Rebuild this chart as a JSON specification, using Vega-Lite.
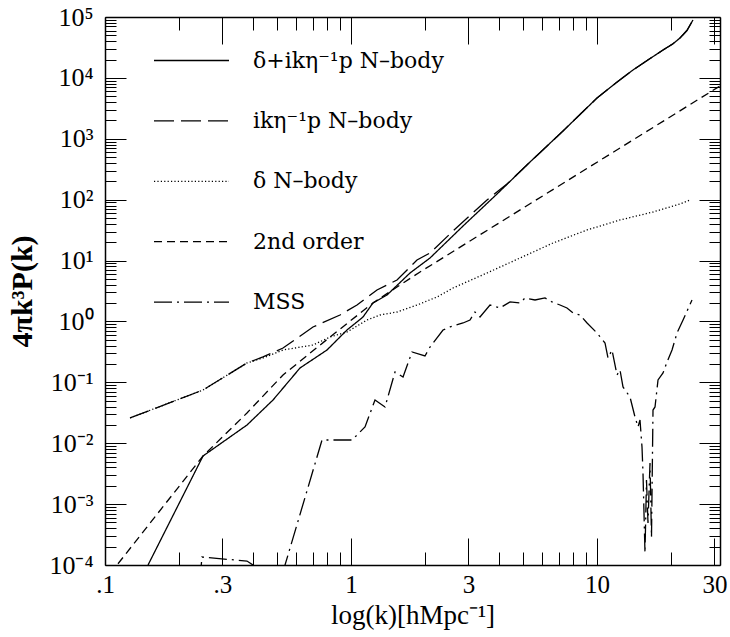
{
  "$schema": "https://vega.github.io/schema/vega-lite/v6.json",
  "width": 615,
  "height": 548,
  "autosize": {"type": "none"},
  "padding": {"left": 105, "top": 17, "right": 10, "bottom": 72},
  "background": "white",
  "config": {
    "view": {"stroke": null},
    "axis": {"domainColor": "black", "domainWidth": 1.5, "tickColor": "black", "tickWidth": 1, "labelColor": "black", "titleColor": "black", "grid": false, "labelFont": "Liberation Serif", "titleFont": "Liberation Serif", "labelOverlap": false, "labelFlush": false}
  },
  "data": {"values": [
    {"s": "δ+ikη⁻¹p N–body", "k": 0.1388, "p": 0.0000567},
    {"s": "δ+ikη⁻¹p N–body", "k": 0.1496, "p": 0.0001},
    {"s": "δ+ikη⁻¹p N–body", "k": 0.2503, "p": 0.00617},
    {"s": "δ+ikη⁻¹p N–body", "k": 0.3777, "p": 0.0199},
    {"s": "δ+ikη⁻¹p N–body", "k": 0.482, "p": 0.0513},
    {"s": "δ+ikη⁻¹p N–body", "k": 0.6204, "p": 0.172},
    {"s": "δ+ikη⁻¹p N–body", "k": 0.799, "p": 0.34},
    {"s": "δ+ikη⁻¹p N–body", "k": 0.9632, "p": 0.724},
    {"s": "δ+ikη⁻¹p N–body", "k": 1.1188, "p": 1.183},
    {"s": "δ+ikη⁻¹p N–body", "k": 1.2282, "p": 2.01},
    {"s": "δ+ikη⁻¹p N–body", "k": 1.4007, "p": 2.72},
    {"s": "δ+ikη⁻¹p N–body", "k": 1.7372, "p": 6.25},
    {"s": "δ+ikη⁻¹p N–body", "k": 2.095, "p": 11.02},
    {"s": "δ+ikη⁻¹p N–body", "k": 2.8534, "p": 36.9},
    {"s": "δ+ikη⁻¹p N–body", "k": 3.922, "p": 123.9},
    {"s": "δ+ikη⁻¹p N–body", "k": 5.3423, "p": 415.6},
    {"s": "δ+ikη⁻¹p N–body", "k": 7.2741, "p": 1342},
    {"s": "δ+ikη⁻¹p N–body", "k": 10, "p": 4673},
    {"s": "δ+ikη⁻¹p N–body", "k": 12.0, "p": 8400},
    {"s": "δ+ikη⁻¹p N–body", "k": 14.005, "p": 13480},
    {"s": "δ+ikη⁻¹p N–body", "k": 16.2, "p": 20000},
    {"s": "δ+ikη⁻¹p N–body", "k": 18.55, "p": 28700},
    {"s": "δ+ikη⁻¹p N–body", "k": 20.3, "p": 36000},
    {"s": "δ+ikη⁻¹p N–body", "k": 21.748, "p": 45200},
    {"s": "δ+ikη⁻¹p N–body", "k": 23.2, "p": 60000},
    {"s": "δ+ikη⁻¹p N–body", "k": 24.557, "p": 89300},

    {"s": "ikη⁻¹p N–body", "k": 0.1264, "p": 0.026},
    {"s": "ikη⁻¹p N–body", "k": 0.2503, "p": 0.0748},
    {"s": "ikη⁻¹p N–body", "k": 0.3777, "p": 0.208},
    {"s": "ikη⁻¹p N–body", "k": 0.4387, "p": 0.261},
    {"s": "ikη⁻¹p N–body", "k": 0.5292, "p": 0.366},
    {"s": "ikη⁻¹p N–body", "k": 0.7006, "p": 0.811},
    {"s": "ikη⁻¹p N–body", "k": 0.9021, "p": 1.276},
    {"s": "ikη⁻¹p N–body", "k": 1.0578, "p": 1.862},
    {"s": "ikη⁻¹p N–body", "k": 1.2754, "p": 3.28},
    {"s": "ikη⁻¹p N–body", "k": 1.5382, "p": 4.79},
    {"s": "ikη⁻¹p N–body", "k": 1.8546, "p": 10.21},
    {"s": "ikη⁻¹p N–body", "k": 2.095, "p": 13.31},
    {"s": "ikη⁻¹p N–body", "k": 2.5984, "p": 30.6},
    {"s": "ikη⁻¹p N–body", "k": 3.5718, "p": 98.8},
    {"s": "ikη⁻¹p N–body", "k": 4.306, "p": 180.9},
    {"s": "ikη⁻¹p N–body", "k": 5.3423, "p": 415.6},
    {"s": "ikη⁻¹p N–body", "k": 7.2741, "p": 1342},
    {"s": "ikη⁻¹p N–body", "k": 10, "p": 4673},
    {"s": "ikη⁻¹p N–body", "k": 12.0, "p": 8400},
    {"s": "ikη⁻¹p N–body", "k": 14.005, "p": 13480},
    {"s": "ikη⁻¹p N–body", "k": 16.2, "p": 20000},
    {"s": "ikη⁻¹p N–body", "k": 18.55, "p": 28700},
    {"s": "ikη⁻¹p N–body", "k": 20.3, "p": 36000},
    {"s": "ikη⁻¹p N–body", "k": 21.748, "p": 45200},
    {"s": "ikη⁻¹p N–body", "k": 23.2, "p": 60000},
    {"s": "ikη⁻¹p N–body", "k": 24.557, "p": 89300},

    {"s": "δ N–body", "k": 0.1264, "p": 0.026},
    {"s": "δ N–body", "k": 0.2503, "p": 0.0748},
    {"s": "δ N–body", "k": 0.3777, "p": 0.208},
    {"s": "δ N–body", "k": 0.4387, "p": 0.251},
    {"s": "δ N–body", "k": 0.5292, "p": 0.34},
    {"s": "δ N–body", "k": 0.7006, "p": 0.41},
    {"s": "δ N–body", "k": 0.8215, "p": 0.555},
    {"s": "δ N–body", "k": 0.9632, "p": 0.671},
    {"s": "δ N–body", "k": 1.1615, "p": 1.056},
    {"s": "δ N–body", "k": 1.3119, "p": 1.276},
    {"s": "δ N–body", "k": 1.5382, "p": 1.429},
    {"s": "δ N–body", "k": 1.8546, "p": 1.862},
    {"s": "δ N–body", "k": 2.2375, "p": 2.52},
    {"s": "δ N–body", "k": 2.5984, "p": 3.54},
    {"s": "δ N–body", "k": 3.5718, "p": 6.25},
    {"s": "δ N–body", "k": 4.8651, "p": 11.02},
    {"s": "δ N–body", "k": 6.625, "p": 19.43},
    {"s": "δ N–body", "k": 9.1107, "p": 31.8},
    {"s": "δ N–body", "k": 12.402, "p": 46.4},
    {"s": "δ N–body", "k": 16.889, "p": 62.7},
    {"s": "δ N–body", "k": 21.748, "p": 85},
    {"s": "δ N–body", "k": 23.878, "p": 98.8},

    {"s": "2nd order", "k": 0.1048, "p": 0.0000711},
    {"s": "2nd order", "k": 0.1119, "p": 0.0001},
    {"s": "2nd order", "k": 0.2503, "p": 0.00617},
    {"s": "2nd order", "k": 0.3777, "p": 0.0314},
    {"s": "2nd order", "k": 0.5292, "p": 0.132},
    {"s": "2nd order", "k": 0.8215, "p": 0.555},
    {"s": "2nd order", "k": 1.2282, "p": 2.01},
    {"s": "2nd order", "k": 1.5382, "p": 3.68},
    {"s": "2nd order", "k": 1.908, "p": 6.49},
    {"s": "2nd order", "k": 31.62, "p": 7360},

    {"s": "MSS", "k": 0.2433, "p": 0.0000567},
    {"s": "MSS", "k": 0.2478, "p": 0.000135},
    {"s": "MSS", "k": 0.3777, "p": 0.000116},
    {"s": "MSS", "k": 0.3995, "p": 0.0001},
    {"s": "MSS", "k": 0.4266, "p": 0.0000567},
    {"s": "MSS", "k": 0.5173, "p": 0.0000567},
    {"s": "MSS", "k": 0.7625, "p": 0.0113},
    {"s": "MSS", "k": 1.0094, "p": 0.0113},
    {"s": "MSS", "k": 1.14, "p": 0.0185},
    {"s": "MSS", "k": 1.2519, "p": 0.0513},
    {"s": "MSS", "k": 1.3748, "p": 0.0394},
    {"s": "MSS", "k": 1.5097, "p": 0.1479},
    {"s": "MSS", "k": 1.6273, "p": 0.1224},
    {"s": "MSS", "k": 1.7701, "p": 0.315},
    {"s": "MSS", "k": 1.9987, "p": 0.271},
    {"s": "MSS", "k": 2.095, "p": 0.38},
    {"s": "MSS", "k": 2.3659, "p": 0.724},
    {"s": "MSS", "k": 2.5263, "p": 0.811},
    {"s": "MSS", "k": 2.8534, "p": 0.943},
    {"s": "MSS", "k": 3.0455, "p": 1.056},
    {"s": "MSS", "k": 3.1917, "p": 1.429},
    {"s": "MSS", "k": 3.3446, "p": 1.183},
    {"s": "MSS", "k": 3.6728, "p": 1.862},
    {"s": "MSS", "k": 4.0337, "p": 1.662},
    {"s": "MSS", "k": 4.4289, "p": 2.09},
    {"s": "MSS", "k": 4.8651, "p": 2.01},
    {"s": "MSS", "k": 5.0981, "p": 2.43},
    {"s": "MSS", "k": 5.5976, "p": 2.25},
    {"s": "MSS", "k": 6.1465, "p": 2.43},
    {"s": "MSS", "k": 6.563, "p": 2.09},
    {"s": "MSS", "k": 7.0725, "p": 1.862},
    {"s": "MSS", "k": 7.5509, "p": 1.662},
    {"s": "MSS", "k": 7.9874, "p": 1.376},
    {"s": "MSS", "k": 8.5307, "p": 1.276},
    {"s": "MSS", "k": 9.1107, "p": 0.943},
    {"s": "MSS", "k": 10, "p": 0.646},
    {"s": "MSS", "k": 10.778, "p": 0.443},
    {"s": "MSS", "k": 11.085, "p": 0.251},
    {"s": "MSS", "k": 11.508, "p": 0.34},
    {"s": "MSS", "k": 12.059, "p": 0.132},
    {"s": "MSS", "k": 12.402, "p": 0.1595},
    {"s": "MSS", "k": 12.755, "p": 0.0839},
    {"s": "MSS", "k": 13.617, "p": 0.0574},
    {"s": "MSS", "k": 14.271, "p": 0.027},
    {"s": "MSS", "k": 14.677, "p": 0.0185},
    {"s": "MSS", "k": 14.954, "p": 0.0241},
    {"s": "MSS", "k": 15.237, "p": 0.00868},
    {"s": "MSS", "k": 15.38, "p": 0.00324},
    {"s": "MSS", "k": 15.67, "p": 0.000158},
    {"s": "MSS", "k": 15.89, "p": 0.00249},
    {"s": "MSS", "k": 16.116, "p": 0.00049},
    {"s": "MSS", "k": 16.422, "p": 0.00474},
    {"s": "MSS", "k": 16.653, "p": 0.000288},
    {"s": "MSS", "k": 16.889, "p": 0.0351},
    {"s": "MSS", "k": 17.211, "p": 0.0394},
    {"s": "MSS", "k": 17.701, "p": 0.1093},
    {"s": "MSS", "k": 18.55, "p": 0.1424},
    {"s": "MSS", "k": 19.258, "p": 0.216},
    {"s": "MSS", "k": 20.181, "p": 0.34},
    {"s": "MSS", "k": 21.146, "p": 0.646},
    {"s": "MSS", "k": 22.375, "p": 1.056},
    {"s": "MSS", "k": 24.331, "p": 2.25}
  ]},
  "layer": [
    {
      "mark": {"type": "line", "clip": true, "color": "black", "strokeWidth": 1.3},
      "encoding": {
        "x": {
          "field": "k", "type": "quantitative",
          "scale": {"type": "log", "domain": [0.1, 31.62], "nice": false},
          "axis": {
            "orient": "bottom",
            "values": [0.1, 0.3, 1, 3, 10, 30],
            "tickSize": -27,
            "labelExpr": "datum.value == 0.1 ? '.1' : datum.value == 0.3 ? '.3' : datum.value == 1 ? '1' : datum.value == 3 ? '3' : datum.value == 10 ? '10' : '30'",
            "labelFontSize": 25,
            "labelBaseline": "middle",
            "labelPadding": 46,
            "title": "log(k)[hMpc⁻¹]",
            "titleFontSize": 27,
            "titleFontWeight": "normal",
            "titleX": 307.5,
            "titleY": 50,
            "titleBaseline": "middle",
            "titleAlign": "center"
          }
        },
        "y": {
          "field": "p", "type": "quantitative",
          "scale": {"type": "log", "domain": [0.0001, 100000], "nice": false},
          "axis": {
            "orient": "left",
            "values": [0.0001, 0.001, 0.01, 0.1, 1, 10, 100, 1000, 10000, 100000],
            "tickSize": -21,
            "labelExpr": "['10⁻⁴','10⁻³','10⁻²','10⁻¹','10⁰','10¹','10²','10³','10⁴','10⁵'][round(log(datum.value)/LN10)+4]",
            "labelFontSize": 26,
            "labelBaseline": "middle",
            "labelAlign": "right",
            "labelPadding": 33,
            "title": "4πk³P(k)",
            "titleFontSize": 30,
            "titleFontWeight": "bold",
            "titleAngle": -90,
            "titleX": -83,
            "titleY": 274,
            "titleBaseline": "middle",
            "titleAlign": "center"
          }
        },
        "strokeDash": {
          "field": "s", "type": "nominal",
          "scale": {
            "domain": ["δ+ikη⁻¹p N–body", "ikη⁻¹p N–body", "δ N–body", "2nd order", "MSS"],
            "range": [[1, 0], [20, 7], [1.2, 2.2], [8, 5], [18, 5, 2, 5]]
          },
          "legend": {
            "orient": "none",
            "legendX": 70.5,
            "legendY": 27.5,
            "title": null,
            "padding": 0,
            "symbolType": "M-2.5,0H2.5",
            "symbolSize": 900,
            "symbolStrokeWidth": 1.3,
            "symbolStrokeColor": "black",
            "symbolFillColor": "transparent",
            "labelFont": "DejaVu Serif",
            "labelFontSize": 22,
            "labelColor": "black",
            "labelOffset": 45.5,
            "rowPadding": 33.4,
            "labelLimit": 400
          }
        }
      }
    },
    {
      "mark": {"type": "point", "opacity": 0},
      "encoding": {
        "x": {
          "field": "k", "type": "quantitative",
          "axis": {"orient": "bottom", "values": [0.2, 0.4, 0.5, 0.6, 0.7, 0.8, 0.9, 2, 4, 5, 6, 7, 8, 9, 20], "tickSize": -13, "labels": false, "domain": false, "title": null}
        },
        "y": {
          "field": "p", "type": "quantitative",
          "axis": {"orient": "left", "values": [0.0002, 0.0003, 0.0004, 0.0005, 0.0006, 0.0007, 0.0008, 0.0009, 0.002, 0.003, 0.004, 0.005, 0.006, 0.007, 0.008, 0.009, 0.02, 0.03, 0.04, 0.05, 0.06, 0.07, 0.08, 0.09, 0.2, 0.3, 0.4, 0.5, 0.6, 0.7, 0.8, 0.9, 2, 3, 4, 5, 6, 7, 8, 9, 20, 30, 40, 50, 60, 70, 80, 90, 200, 300, 400, 500, 600, 700, 800, 900, 2000, 3000, 4000, 5000, 6000, 7000, 8000, 9000, 20000, 30000, 40000, 50000, 60000, 70000, 80000, 90000], "tickSize": -11, "labels": false, "domain": false, "title": null}
        }
      }
    },
    {
      "mark": {"type": "point", "opacity": 0},
      "encoding": {
        "x": {
          "field": "k", "type": "quantitative",
          "axis": {"orient": "top", "values": [0.1, 0.3, 1, 3, 10, 30], "tickSize": -27, "labels": false, "title": null}
        },
        "y": {
          "field": "p", "type": "quantitative",
          "axis": {"orient": "right", "values": [0.0001, 0.001, 0.01, 0.1, 1, 10, 100, 1000, 10000, 100000], "tickSize": -21, "labels": false, "title": null}
        }
      }
    },
    {
      "mark": {"type": "point", "opacity": 0},
      "encoding": {
        "x": {
          "field": "k", "type": "quantitative",
          "axis": {"orient": "top", "values": [0.2, 0.4, 0.5, 0.6, 0.7, 0.8, 0.9, 2, 4, 5, 6, 7, 8, 9, 20], "tickSize": -13, "labels": false, "domain": false, "title": null}
        },
        "y": {
          "field": "p", "type": "quantitative",
          "axis": {"orient": "right", "values": [0.0002, 0.0003, 0.0004, 0.0005, 0.0006, 0.0007, 0.0008, 0.0009, 0.002, 0.003, 0.004, 0.005, 0.006, 0.007, 0.008, 0.009, 0.02, 0.03, 0.04, 0.05, 0.06, 0.07, 0.08, 0.09, 0.2, 0.3, 0.4, 0.5, 0.6, 0.7, 0.8, 0.9, 2, 3, 4, 5, 6, 7, 8, 9, 20, 30, 40, 50, 60, 70, 80, 90, 200, 300, 400, 500, 600, 700, 800, 900, 2000, 3000, 4000, 5000, 6000, 7000, 8000, 9000, 20000, 30000, 40000, 50000, 60000, 70000, 80000, 90000], "tickSize": -11, "labels": false, "domain": false, "title": null}
        }
      }
    }
  ],
  "resolve": {"axis": {"x": "independent", "y": "independent"}}
}
